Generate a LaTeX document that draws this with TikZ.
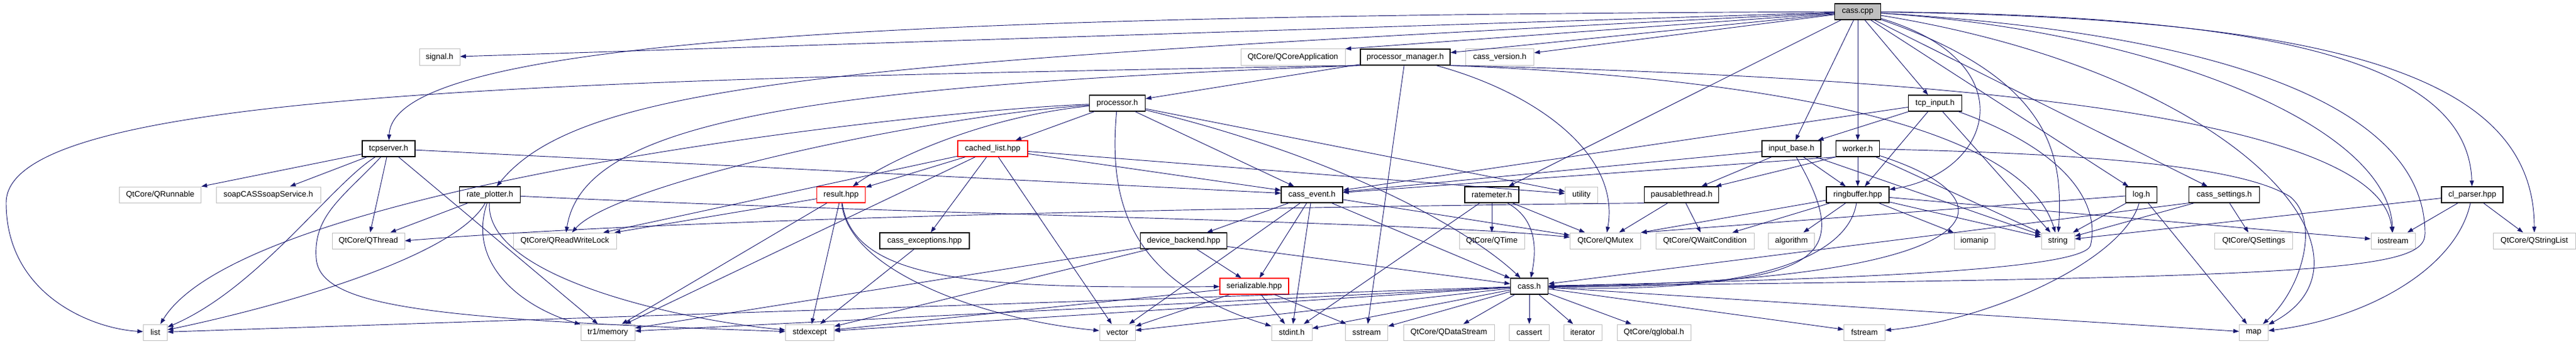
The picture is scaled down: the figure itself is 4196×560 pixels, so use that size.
\documentclass[tikz,border=0pt]{standalone}
\usepackage{fontspec}
\setmainfont{Liberation Sans}
\usepackage{xcolor}
\usepackage{tikz}
\usetikzlibrary{arrows.meta}

\definecolor{edgeblue}{HTML}{191970}
\definecolor{sysgray}{HTML}{BFBFBF}
\definecolor{truncred}{HTML}{FF0000}

\begin{document}
\begin{tikzpicture}[x=0.75pt, y=-0.75pt,
    every node/.style={font=\fontsize{9.75}{11}\selectfont, minimum height=19.5pt, inner sep=0pt, rectangle, fill=white},
    hdr/.style={draw=black, line width=0.9pt},
    sys/.style={draw=sysgray, line width=0.75pt},
    trunc/.style={draw=truncred, line width=0.9pt},
    root/.style={draw=black, line width=0.9pt, fill=sysgray},
    dep/.style={draw=edgeblue, line width=0.7pt, -{Triangle[length=7pt,width=5pt]}}]

        \useasboundingbox (0,0) rectangle (4196,560);

        %% Row 0
        \node (cpp) [root, minimum width=56.2pt] at (3026,19) {cass.cpp};

        %% Row 1
        \node (signal) [sys, minimum width=49.5pt] at (716,93) {signal.h};
        \node (qcoreapp) [sys, minimum width=127.5pt] at (2106,93) {QtCore/QCoreApplication};
        \node (pmgr) [hdr, minimum width=109.5pt] at (2289,93) {processor\_manager.h};
        \node (version) [sys, minimum width=83.2pt] at (2443,93) {cass\_version.h};

        %% Row 2
        \node (proc) [hdr, minimum width=68.2pt] at (1820,168) {processor.h};
        \node (tcpin) [hdr, minimum width=65.2pt] at (3152,168) {tcp\_input.h};

        %% Row 3
        \node (tcpsrv) [hdr, minimum width=64.5pt] at (633,242) {tcpserver.h};
        \node (cached) [trunc, minimum width=85.5pt] at (1617,242) {cached\_list.hpp};
        \node (inbase) [hdr, minimum width=72pt] at (2918,242) {input\_base.h};
        \node (worker) [hdr, minimum width=53.2pt] at (3026,242) {worker.h};

        %% Row 4
        \node (qrunnable) [sys, minimum width=99.7pt] at (261,317) {QtCore/QRunnable};
        \node (soap) [sys, minimum width=127.5pt] at (437,317) {soapCASSsoapService.h};
        \node (rplot) [hdr, minimum width=74.2pt] at (798,317) {rate\_plotter.h};
        \node (result) [trunc, minimum width=59.2pt] at (1370,317) {result.hpp};
        \node (event) [hdr, minimum width=75pt] at (2137,317) {cass\_event.h};
        \node (rmeter) [hdr, minimum width=66pt] at (2430,317) {ratemeter.h};
        \node (utility) [sys, minimum width=39.7pt] at (2576,317) {utility};
        \node (pthread) [hdr, minimum width=90.7pt] at (2739,317) {pausablethread.h};
        \node (ringbuf) [hdr, minimum width=76.5pt] at (3026,317) {ringbuffer.hpp};
        \node (log) [hdr, minimum width=38.2pt] at (3488,317) {log.h};
        \node (settings) [hdr, minimum width=86.2pt] at (3623,317) {cass\_settings.h};
        \node (clparser) [hdr, minimum width=75pt] at (4027,317) {cl\_parser.hpp};

        %% Row 5
        \node (qthread) [sys, minimum width=88.5pt] at (600,392) {QtCore/QThread};
        \node (qrwlock) [sys, minimum width=126pt] at (920,392) {QtCore/QReadWriteLock};
        \node (exceptions) [hdr, minimum width=109.5pt] at (1506,392) {cass\_exceptions.hpp};
        \node (backend) [hdr, minimum width=105.7pt] at (1928,392) {device\_backend.hpp};
        \node (qtime) [sys, minimum width=79.5pt] at (2430,392) {QtCore/QTime};
        \node (qmutex) [sys, minimum width=86.2pt] at (2615,392) {QtCore/QMutex};
        \node (qwait) [sys, minimum width=120pt] at (2777,392) {QtCore/QWaitCondition};
        \node (algorithm) [sys, minimum width=56.2pt] at (2918,392) {algorithm};
        \node (iomanip) [sys, minimum width=49.5pt] at (3216,392) {iomanip};
        \node (string) [sys, minimum width=40.5pt] at (3352,392) {string};
        \node (qsettings) [sys, minimum width=95.2pt] at (3671,392) {QtCore/QSettings};
        \node (iostream) [sys, minimum width=54pt] at (3898,392) {iostream};
        \node (qstrlist) [sys, minimum width=100.5pt] at (4128,392) {QtCore/QStringList};

        %% Row 6
        \node (serial) [trunc, minimum width=84pt] at (2043,466) {serializable.hpp};
        \node (cassh) [hdr, minimum width=45.7pt] at (2491,466) {cass.h};

        %% Row 7
        \node (list) [sys, minimum width=29.2pt] at (253,541) {list};
        \node (memory) [sys, minimum width=66pt] at (990,541) {tr1/memory};
        \node (stdexcept) [sys, minimum width=59.2pt] at (1319,541) {stdexcept};
        \node (vector) [sys, minimum width=43.5pt] at (1820,541) {vector};
        \node (stdint) [sys, minimum width=49.5pt] at (2104,541) {stdint.h};
        \node (sstream) [sys, minimum width=51.7pt] at (2226,541) {sstream};
        \node (qdatastream) [sys, minimum width=111pt] at (2360,541) {QtCore/QDataStream};
        \node (cassert) [sys, minimum width=48.7pt] at (2491,541) {cassert};
        \node (iterator) [sys, minimum width=46.5pt] at (2578,541) {iterator};
        \node (qglobal) [sys, minimum width=90pt] at (2694,541) {QtCore/qglobal.h};
        \node (fstream) [sys, minimum width=50.2pt] at (3037,541) {fstream};
        \node (map) [sys, minimum width=35.2pt] at (3671,541) {map};

        %% cass.cpp
        \draw [dep] (cpp) -- (signal);
        \draw [dep] (cpp) -- (qcoreapp.north east);
        \draw [dep] (cpp) -- (pmgr);
        \draw [dep] (cpp) -- (version);
        \draw [dep] (cpp) .. controls (1500,25) and (640,60) .. (tcpsrv);
        \draw [dep] (cpp) .. controls (1400,100) and (950,130) .. (rplot);
        \draw [dep] (cpp) -- (rmeter);
        \draw [dep] (cpp) -- (inbase);
        \draw [dep] (cpp) -- (worker);
        \draw [dep] (cpp) -- (tcpin);
        \draw [dep] (cpp) .. controls (3300,100) and (3250,280) .. (ringbuf);
        \draw [dep] (cpp) -- (log);
        \draw [dep] (cpp) -- (settings);
        \draw [dep] (cpp) .. controls (3700,25) and (4020,100) .. (clparser);
        \draw [dep] (cpp) .. controls (3800,30) and (4128,120) .. (qstrlist);
        \draw [dep] (cpp) .. controls (3500,50) and (3890,200) .. (iostream);
        \draw [dep] (cpp) .. controls (3350,130) and (3360,260) .. (string);
        \draw [dep] (cpp) .. controls (3650,120) and (3900,420) .. (map);
        \draw [dep] (cpp) .. controls (3700,60) and (3950,200) .. (3950,380) .. controls (3950,440) and (3800,452) .. (cassh);

        %% processor_manager.h
        \draw [dep] (pmgr) -- (proc);
        \draw [dep] (pmgr.south west) .. controls (900,130) and (10,150) .. (10,330) .. controls (10,480) and (150,535) .. (list);
        \draw [dep] (pmgr.south west) .. controls (1300,140) and (950,200) .. (qrwlock);
        \draw [dep] (pmgr) .. controls (2500,150) and (2640,250) .. (qmutex);
        \draw [dep] (pmgr) -- (sstream);
        \draw [dep] (pmgr.south east) .. controls (2950,130) and (3300,220) .. (string);
        \draw [dep] (pmgr.south east) .. controls (3400,130) and (3880,220) .. (iostream);

        %% processor.h
        \draw [dep] (proc) -- (cached);
        \draw [dep] (proc) .. controls (1600,190) and (1450,260) .. (result);
        \draw [dep] (proc) -- (event);
        \draw [dep] (proc) .. controls (2200,260) and (2400,380) .. (cassh);
        \draw [dep] (proc) .. controls (1805,330) and (1840,460) .. (stdint);
        \draw [dep] (proc) .. controls (1500,190) and (1000,300) .. (qrwlock);
        \draw [dep] (proc) -- (utility);
        \draw [dep] (proc) .. controls (1500,180) and (400,300) .. (list);

        %% cached_list.hpp
        \draw [dep] (cached) -- (result);
        \draw [dep] (cached) -- (exceptions);
        \draw [dep] (cached) -- (vector);
        \draw [dep] (cached) -- (event);
        \draw [dep] (cached) -- (qrwlock);
        \draw [dep] (cached) -- (memory);
        \draw [dep] (cached) -- (utility);

        %% tcpserver.h
        \draw [dep] (tcpsrv) -- (qrunnable);
        \draw [dep] (tcpsrv) -- (soap);
        \draw [dep] (tcpsrv) -- (qthread);
        \draw [dep] (tcpsrv) .. controls (540,300) and (420,470) .. (list);
        \draw [dep] (tcpsrv) -- (memory);
        \draw [dep] (tcpsrv) -- (event);
        \draw [dep] (tcpsrv) .. controls (560,320) and (510,350) .. (515,420) .. controls (520,500) and (700,520) .. (stdexcept);

        %% rate_plotter.h
        \draw [dep] (rplot) -- (qthread);
        \draw [dep] (rplot) .. controls (740,420) and (450,500) .. (list);
        \draw [dep] (rplot) .. controls (760,430) and (850,500) .. (memory);
        \draw [dep] (rplot) .. controls (790,450) and (1100,520) .. (stdexcept);
        \draw [dep] (rplot) .. controls (1500,350) and (2300,360) .. (qmutex);

        %% result.hpp
        \draw [dep] (result) -- (qrwlock);
        \draw [dep] (result) -- (stdexcept);
        \draw [dep] (result) -- (memory);
        \draw [dep] (result) .. controls (1390,460) and (1600,470) .. (serial);
        \draw [dep] (result) .. controls (1380,440) and (1600,520) .. (vector);

        %% cass_event.h
        \draw [dep] (event) -- (backend);
        \draw [dep] (event) -- (serial);
        \draw [dep] (event) -- (stdint);
        \draw [dep] (event) -- (cassh);
        \draw [dep] (event) -- (vector);
        \draw [dep] (event) -- (qmutex);

        %% ratemeter.h
        \draw [dep] (rmeter) -- (qtime);
        \draw [dep] (rmeter) -- (qmutex);
        \draw [dep] (rmeter) .. controls (2510,360) and (2500,420) .. (cassh);
        \draw [dep] (rmeter) -- (stdint);

        %% input_base.h
        \draw [dep] (inbase) -- (ringbuf);
        \draw [dep] (inbase) -- (event);
        \draw [dep] (inbase) -- (pthread);
        \draw [dep] (inbase) .. controls (3020,420) and (2980,470) .. (cassh);
        \draw [dep] (inbase) -- (string);

        %% worker.h
        \draw [dep] (worker) -- (ringbuf);
        \draw [dep] (worker.south west) -- (pthread);
        \draw [dep] (worker.south west) -- (event);
        \draw [dep] (worker) -- (string);
        \draw [dep] (worker) .. controls (3300,330) and (3250,460) .. (cassh);
        \draw [dep] (worker) .. controls (3400,250) and (3650,270) .. (3730,320) .. controls (3780,360) and (3750,470) .. (map);

        %% tcp_input.h
        \draw [dep] (tcpin) -- (inbase);
        \draw [dep] (tcpin) -- (ringbuf);
        \draw [dep] (tcpin) -- (event);
        \draw [dep] (tcpin) -- (string);
        \draw [dep] (tcpin) .. controls (3380,250) and (3420,340) .. (3405,400) .. controls (3390,440) and (3000,455) .. (cassh);

        %% ringbuffer.hpp
        \draw [dep] (ringbuf) -- (qmutex.north east);
        \draw [dep] (ringbuf) -- (qwait);
        \draw [dep] (ringbuf) -- (algorithm);
        \draw [dep] (ringbuf) -- (iomanip);
        \draw [dep] (ringbuf) -- (string);
        \draw [dep] (ringbuf) -- (iostream);
        \draw [dep] (ringbuf) .. controls (3010,420) and (2850,480) .. (cassh);

        %% pausablethread.h
        \draw [dep] (pthread.south west) .. controls (1800,340) and (1050,360) .. (qthread.east);
        \draw [dep] (pthread) -- (qmutex);
        \draw [dep] (pthread) -- (qwait);

        %% log.h
        \draw [dep] (log) -- (string);
        \draw [dep] (log) .. controls (3460,420) and (3250,520) .. (fstream);
        \draw [dep] (log) -- (map);
        \draw [dep] (log) -- (qmutex.north east);

        %% cass_settings.h
        \draw [dep] (settings) -- (qsettings);
        \draw [dep] (settings.south west) -- (cassh);
        \draw [dep] (settings) -- (string);

        %% cl_parser.hpp
        \draw [dep] (clparser) -- (iostream);
        \draw [dep] (clparser) -- (qstrlist);
        \draw [dep] (clparser) .. controls (4000,440) and (3850,520) .. (map);
        \draw [dep] (clparser) -- (string);

        %% cass_exceptions.hpp
        \draw [dep] (exceptions) -- (stdexcept);

        %% device_backend.hpp
        \draw [dep] (backend) -- (serial);
        \draw [dep] (backend) -- (cassh);
        \draw [dep] (backend) -- (memory);
        \draw [dep] (backend) -- (stdexcept);

        %% serializable.hpp
        \draw [dep] (serial) -- (stdint);
        \draw [dep] (serial) -- (sstream);
        \draw [dep] (serial) -- (vector);
        \draw [dep] (serial) -- (stdexcept);

        %% cass.h
        \draw [dep] (cassh) -- (list);
        \draw [dep] (cassh) -- (memory);
        \draw [dep] (cassh) -- (stdexcept);
        \draw [dep] (cassh) -- (vector);
        \draw [dep] (cassh) -- (stdint);
        \draw [dep] (cassh) -- (sstream);
        \draw [dep] (cassh) -- (qdatastream);
        \draw [dep] (cassh) -- (cassert);
        \draw [dep] (cassh) -- (iterator);
        \draw [dep] (cassh) -- (qglobal);
        \draw [dep] (cassh) -- (fstream);
        \draw [dep] (cassh) -- (map);

    \end{tikzpicture}
\end{document}
